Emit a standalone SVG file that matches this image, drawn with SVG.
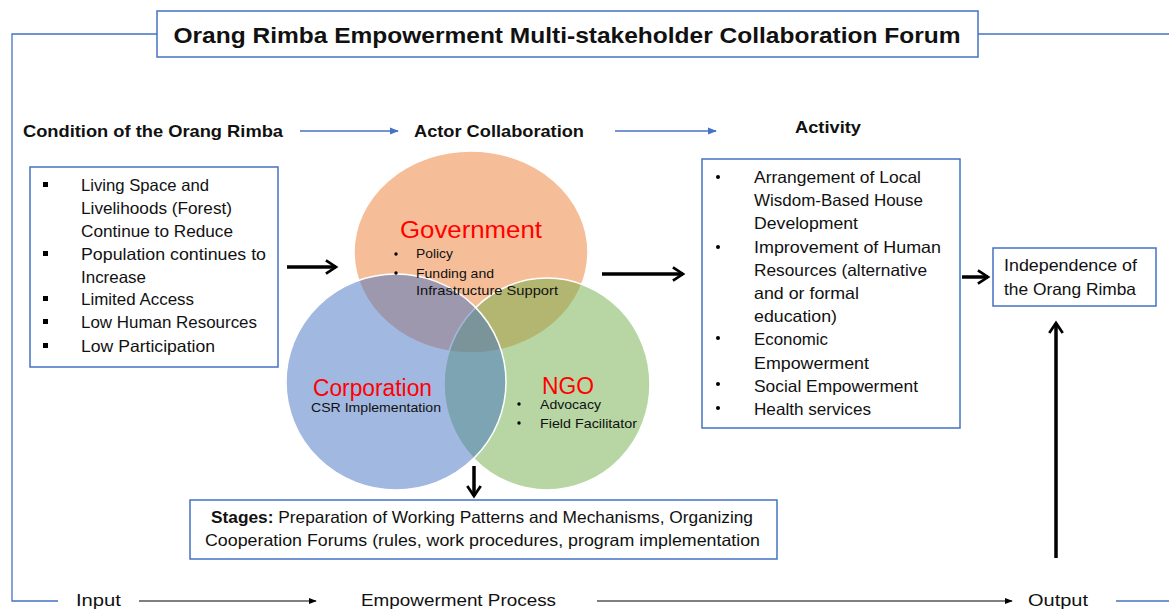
<svg xmlns="http://www.w3.org/2000/svg" width="1169" height="610" viewBox="0 0 1169 610">
<defs>
<style>
text{font-family:"Liberation Sans",Arial,sans-serif;fill:#111}
.b{font-weight:bold}
.t16{font-size:16.5px}
.t13{font-size:13px}
.red{fill:#ff0000;font-size:23px}
.box{fill:#fff;stroke:#4472c4;stroke-width:1.5}
.blue{stroke:#4472c4;stroke-width:1.3;fill:none}
.thick{stroke:#000;stroke-width:3.5;fill:none}
.thin{stroke:#000;stroke-width:1.2;fill:none}
</style>
<marker id="chev" viewBox="0 0 10 10" refX="8" refY="5" markerWidth="4.8" markerHeight="4.8" orient="auto" markerUnits="strokeWidth">
<path d="M2,1 L8,5 L2,9" fill="none" stroke="#000" stroke-width="1.6"/>
</marker>
<marker id="tri" viewBox="0 0 10 10" refX="9" refY="5" markerWidth="8" markerHeight="8" orient="auto" markerUnits="userSpaceOnUse">
<path d="M0,1 L10,5 L0,9 Z" fill="#000"/>
</marker>
<marker id="btri" viewBox="0 0 10 10" refX="9" refY="5" markerWidth="9" markerHeight="9" orient="auto" markerUnits="userSpaceOnUse">
<path d="M0,1 L10,5 L0,9 Z" fill="#4472c4"/>
</marker>
</defs>
<rect width="1169" height="610" fill="#fff"/>

<g id="frame">
<polyline class="blue" points="157,34 12,34 12,601 58,601"/>
<line class="blue" x1="978" y1="34" x2="1169" y2="34"/>
<line class="blue" x1="1116" y1="601" x2="1169" y2="601"/>
</g>

<g id="venn">
<ellipse cx="471" cy="252" rx="117" ry="101" fill="#ed7d31" fill-opacity="0.5" stroke="#fff" stroke-width="1.5"/>
<ellipse cx="547" cy="384" rx="103" ry="106" fill="#70ad47" fill-opacity="0.5" stroke="#fff" stroke-width="1.5"/>
<ellipse cx="396" cy="382" rx="110" ry="108" fill="#4472c4" fill-opacity="0.5" stroke="#fff" stroke-width="1.5"/>
</g>

<g id="connectors">
<line class="blue" x1="300" y1="131" x2="398" y2="131" marker-end="url(#btri)"/>
<line class="blue" x1="615" y1="131" x2="716" y2="131" marker-end="url(#btri)"/>
<line class="thick" x1="287" y1="267" x2="336" y2="267" marker-end="url(#chev)"/>
<line class="thick" x1="602" y1="274" x2="683" y2="274" marker-end="url(#chev)"/>
<line class="thick" x1="962" y1="277" x2="988" y2="277" marker-end="url(#chev)"/>
<line class="thick" x1="474" y1="466" x2="474" y2="496" marker-end="url(#chev)"/>
<line class="thick" x1="1056" y1="558" x2="1056" y2="323" marker-end="url(#chev)"/>
<line class="thin" x1="139" y1="601" x2="316" y2="601" marker-end="url(#tri)"/>
<line class="thin" x1="597" y1="601" x2="1012" y2="601" marker-end="url(#tri)"/>
</g>

<g id="title">
<rect class="box" x="157" y="11" width="821" height="46"/>
<text class="b" x="567" y="43" font-size="22" text-anchor="middle" textLength="787" lengthAdjust="spacingAndGlyphs">Orang Rimba Empowerment Multi-stakeholder Collaboration Forum</text>
</g>

<g id="headers">
<text class="b t16" x="23" y="137" textLength="260" lengthAdjust="spacingAndGlyphs">Condition of the Orang Rimba</text>
<text class="b t16" x="414" y="137" textLength="170" lengthAdjust="spacingAndGlyphs">Actor Collaboration</text>
<text class="b t16" x="795" y="133" textLength="66" lengthAdjust="spacingAndGlyphs">Activity</text>
</g>

<g id="condition">
<rect class="box" x="30" y="167" width="248" height="200"/>
<g fill="#000">
<rect x="43" y="182" width="5" height="5"/>
<rect x="43" y="251" width="5" height="5"/>
<rect x="43" y="296" width="5" height="5"/>
<rect x="43" y="319" width="5" height="5"/>
<rect x="43" y="343" width="5" height="5"/>
</g>
<text class="t16" x="81" y="191" textLength="128" lengthAdjust="spacingAndGlyphs">Living Space and</text>
<text class="t16" x="81" y="214" textLength="151" lengthAdjust="spacingAndGlyphs">Livelihoods (Forest)</text>
<text class="t16" x="81" y="237" textLength="152" lengthAdjust="spacingAndGlyphs">Continue to Reduce</text>
<text class="t16" x="81" y="260" textLength="185" lengthAdjust="spacingAndGlyphs">Population continues to</text>
<text class="t16" x="81" y="283" textLength="65" lengthAdjust="spacingAndGlyphs">Increase</text>
<text class="t16" x="81" y="305" textLength="113" lengthAdjust="spacingAndGlyphs">Limited Access</text>
<text class="t16" x="81" y="328" textLength="176" lengthAdjust="spacingAndGlyphs">Low Human Resources</text>
<text class="t16" x="81" y="352" textLength="134" lengthAdjust="spacingAndGlyphs">Low Participation</text>
</g>

<g id="government">
<text class="red" x="400" y="238" textLength="142" lengthAdjust="spacingAndGlyphs">Government</text>
<circle cx="396" cy="254" r="1.7" fill="#000"/>
<circle cx="396" cy="273" r="1.7" fill="#000"/>
<text class="t13" x="416" y="258" textLength="37" lengthAdjust="spacingAndGlyphs">Policy</text>
<text class="t13" x="416" y="278" textLength="78" lengthAdjust="spacingAndGlyphs">Funding and</text>
<text class="t13" x="416" y="295" textLength="142" lengthAdjust="spacingAndGlyphs">Infrastructure Support</text>
</g>

<g id="corporation">
<text class="red" x="313" y="396" textLength="119" lengthAdjust="spacingAndGlyphs">Corporation</text>
<text class="t13" x="311" y="412" textLength="130" lengthAdjust="spacingAndGlyphs">CSR Implementation</text>
</g>

<g id="ngo">
<text class="red" x="542" y="394" font-size="24" textLength="52" lengthAdjust="spacingAndGlyphs">NGO</text>
<circle cx="519" cy="404" r="1.7" fill="#000"/>
<circle cx="519" cy="423" r="1.7" fill="#000"/>
<text class="t13" x="540" y="409" textLength="61" lengthAdjust="spacingAndGlyphs">Advocacy</text>
<text class="t13" x="540" y="428" textLength="97" lengthAdjust="spacingAndGlyphs">Field Facilitator</text>
</g>

<g id="activity">
<rect class="box" x="702" y="159" width="258" height="269"/>
<g fill="#000">
<circle cx="718" cy="177" r="2"/>
<circle cx="718" cy="247" r="2"/>
<circle cx="718" cy="338" r="2"/>
<circle cx="718" cy="384" r="2"/>
<circle cx="718" cy="408" r="2"/>
</g>
<text class="t16" x="754" y="183" textLength="167" lengthAdjust="spacingAndGlyphs">Arrangement of Local</text>
<text class="t16" x="754" y="206" textLength="169" lengthAdjust="spacingAndGlyphs">Wisdom-Based House</text>
<text class="t16" x="754" y="229" textLength="104" lengthAdjust="spacingAndGlyphs">Development</text>
<text class="t16" x="754" y="253" textLength="187" lengthAdjust="spacingAndGlyphs">Improvement of Human</text>
<text class="t16" x="754" y="276" textLength="173" lengthAdjust="spacingAndGlyphs">Resources (alternative</text>
<text class="t16" x="754" y="299" textLength="105" lengthAdjust="spacingAndGlyphs">and or formal</text>
<text class="t16" x="754" y="322" textLength="83" lengthAdjust="spacingAndGlyphs">education)</text>
<text class="t16" x="754" y="345" textLength="74" lengthAdjust="spacingAndGlyphs">Economic</text>
<text class="t16" x="754" y="369" textLength="115" lengthAdjust="spacingAndGlyphs">Empowerment</text>
<text class="t16" x="754" y="392" textLength="164" lengthAdjust="spacingAndGlyphs">Social Empowerment</text>
<text class="t16" x="754" y="415" textLength="117" lengthAdjust="spacingAndGlyphs">Health services</text>
</g>

<g id="independence">
<rect class="box" x="993" y="248" width="163" height="58"/>
<text class="t16" x="1004" y="271" textLength="133" lengthAdjust="spacingAndGlyphs">Independence of</text>
<text class="t16" x="1004" y="295" textLength="132" lengthAdjust="spacingAndGlyphs">the Orang Rimba</text>
</g>

<g id="stages">
<rect class="box" x="190" y="500" width="587" height="59"/>
<text class="t16" x="211" y="523" textLength="542" lengthAdjust="spacingAndGlyphs"><tspan class="b">Stages:</tspan> Preparation of Working Patterns and Mechanisms, Organizing</text>
<text class="t16" x="205" y="546" textLength="555" lengthAdjust="spacingAndGlyphs">Cooperation Forums (rules, work procedures, program implementation</text>
</g>

<g id="bottom">
<text class="t16" x="76" y="606" textLength="45" lengthAdjust="spacingAndGlyphs">Input</text>
<text class="t16" x="361" y="606" textLength="195" lengthAdjust="spacingAndGlyphs">Empowerment Process</text>
<text class="t16" x="1028" y="606" textLength="60" lengthAdjust="spacingAndGlyphs">Output</text>
</g>
</svg>
